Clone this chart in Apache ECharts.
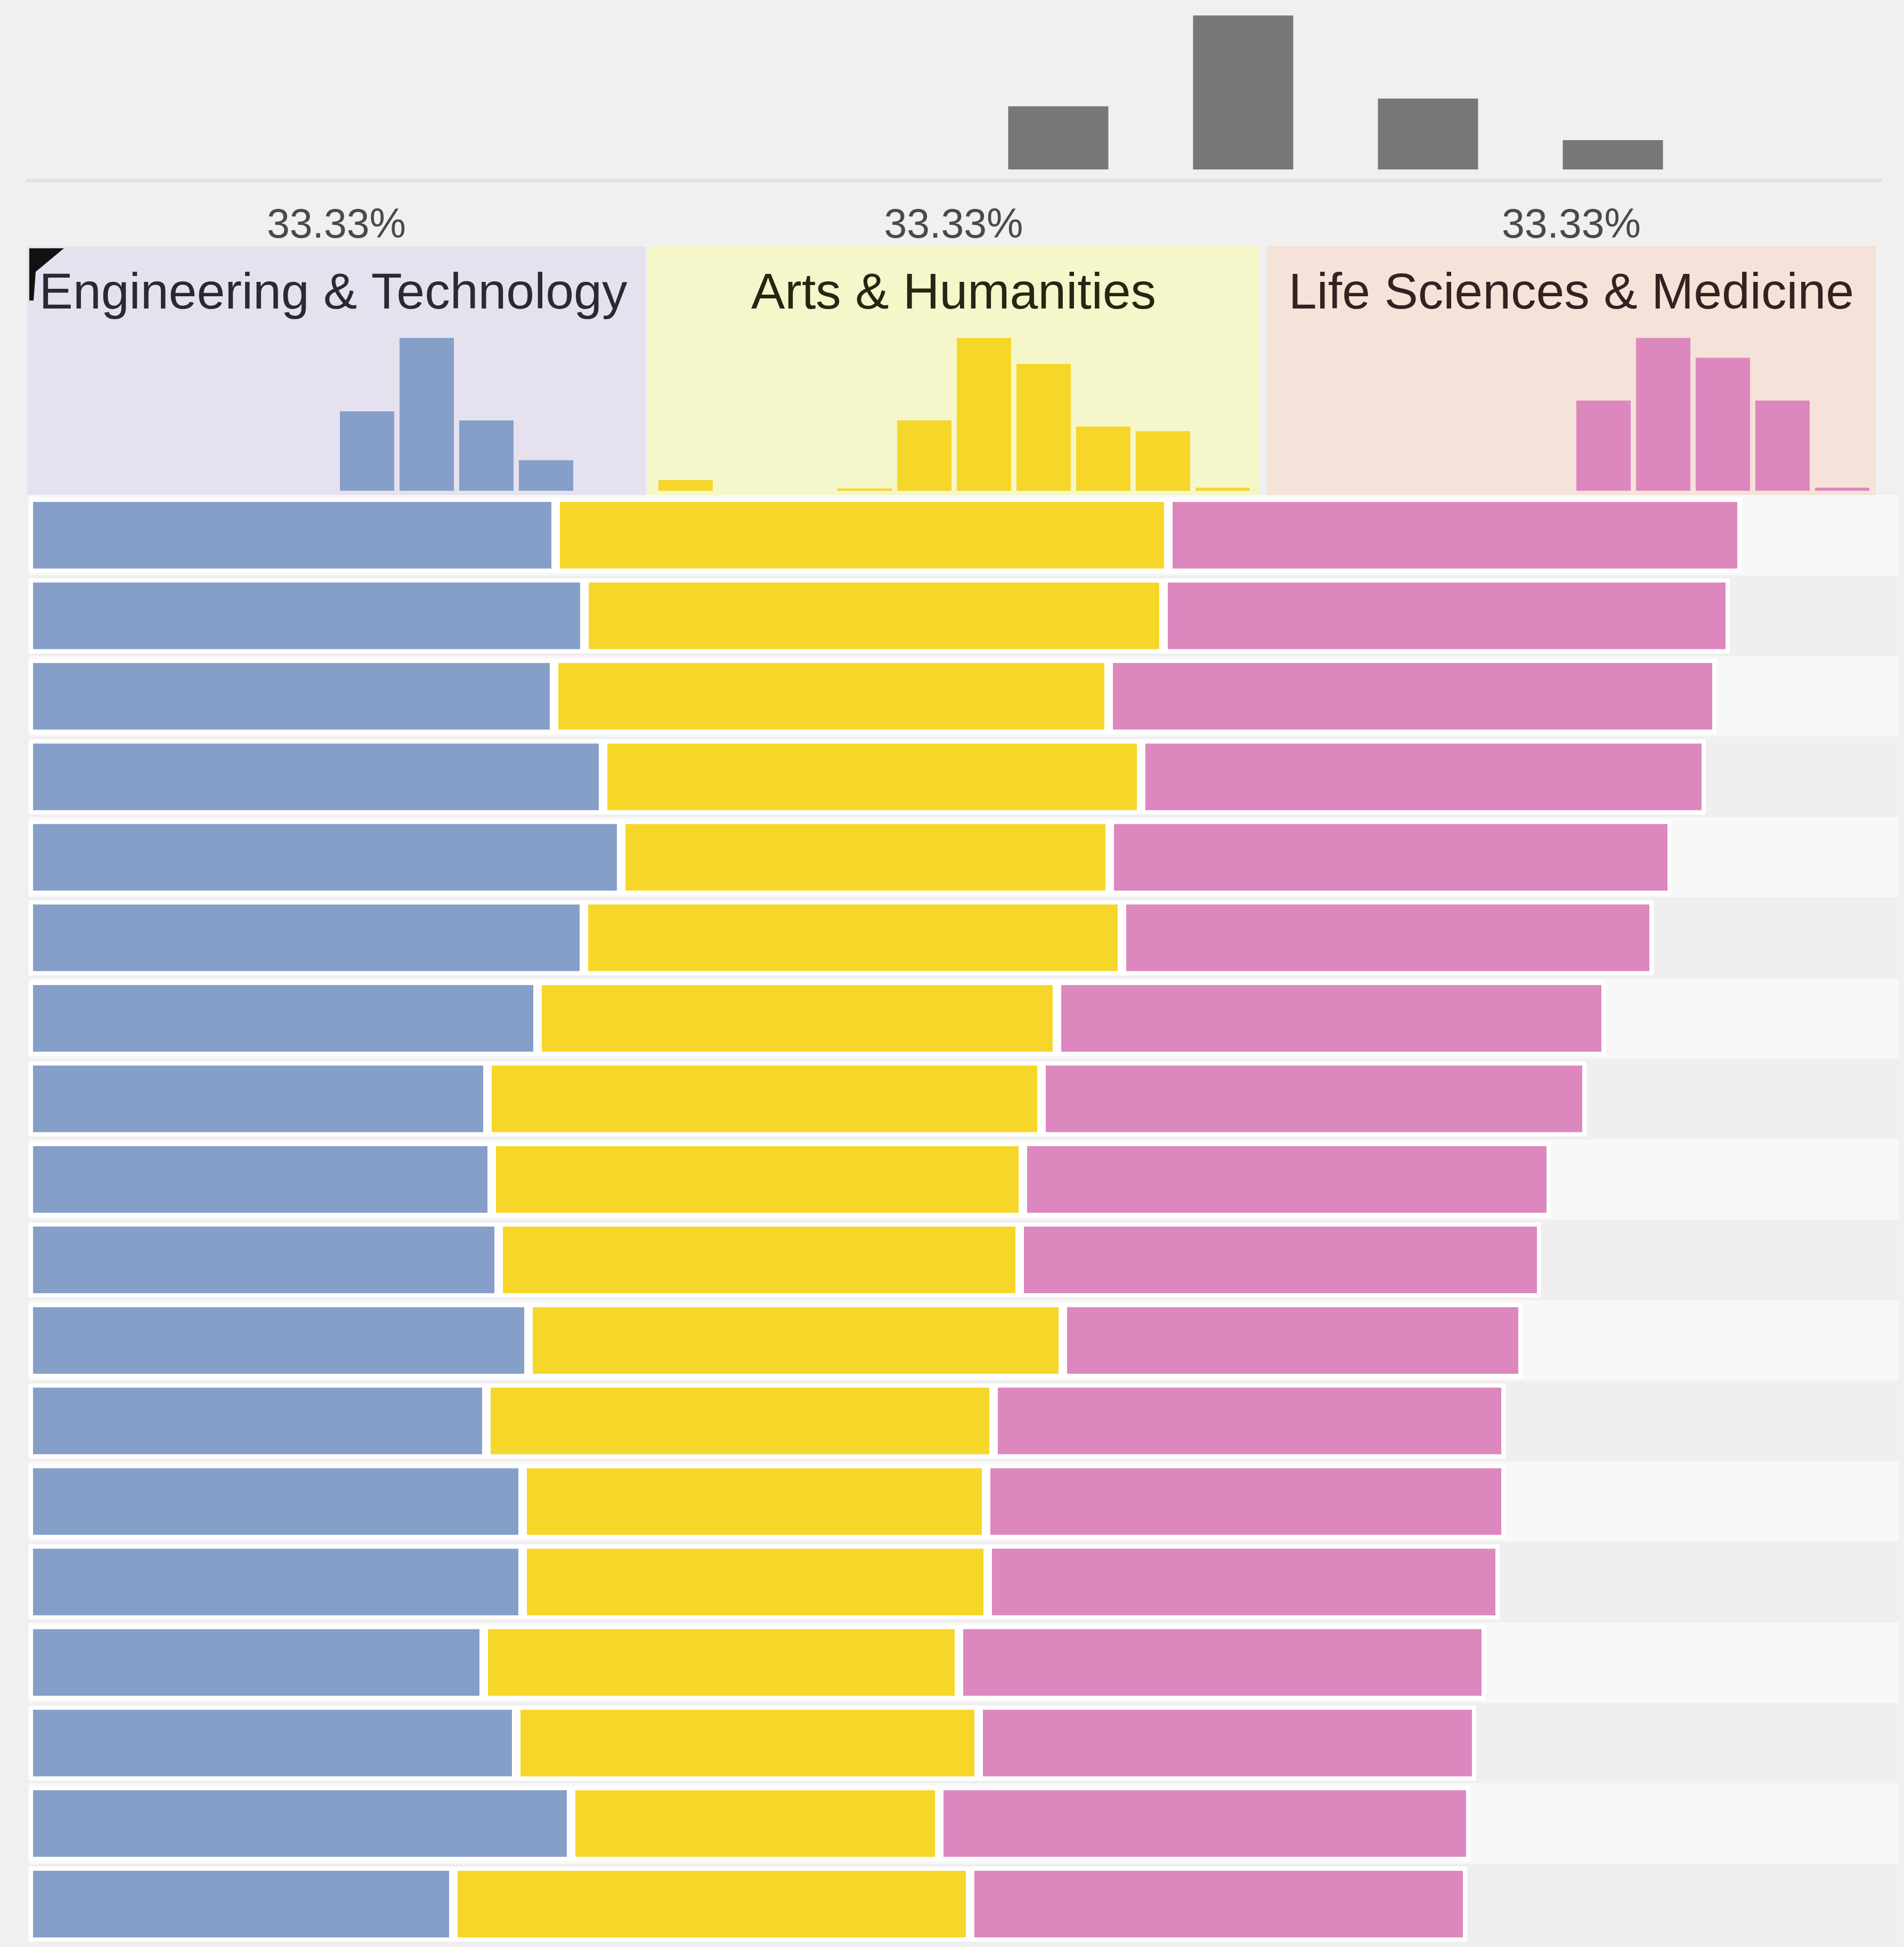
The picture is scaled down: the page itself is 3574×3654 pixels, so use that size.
<!DOCTYPE html>
<html>
<head>
<meta charset="utf-8">
<script src="https://cdn.jsdelivr.net/npm/echarts@6/dist/echarts.min.js"></script>
<style>
html,body{margin:0;padding:0;background:#f0f0f0;}
#chart{width:3574px;height:3654px;}
</style>
</head>
<body>
<div id="chart"></div>
<script>
// ---------- DATA ----------
const rows = ['R1','R2','R3','R4','R5','R6','R7','R8','R9','R10','R11','R12','R13','R14','R15','R16','R17','R18'];
const engineering  = [98.9,104.3,98.6,107.8,111.2,104.2,95.5,86.1,86.9,88.2,93.8,85.9,92.7,92.7,85.4,91.5,101.8,79.7];
const arts         = [115.0,108.7,104.1,101.0,91.7,101.0,97.5,104.0,99.7,97.8,100.3,95.2,87.0,87.3,89.2,86.8,69.1,97.0];
const lifeSciences = [107.6,106.3,114.1,106.0,105.5,99.8,103.0,102.3,99.1,97.9,86.3,96.1,97.5,96.1,98.9,93.4,99.7,93.3];

const categoryNames = ['Engineering & Technology','Arts & Humanities','Life Sciences & Medicine'];
const shareLabels   = ['33.33%','33.33%','33.33%'];

// histogram counts per bin (10 bins)
const overviewHist = [0,0,0,0,0,4.1,10,4.6,1.9,0];
const engHist      = [0,0,0,0,0,5.2,10,4.6,2.0,0];
const artsHist     = [0.7,0,0,0.15,4.6,10,8.3,4.2,3.9,0.2];
const lifeHist     = [0,0,0,0,0,5.9,10,8.7,5.9,0.2];

// ---------- STYLE / LAYOUT ----------
const colors = ['#859fc8','#f7d62a','#dd87bf'];
const panelBg = ['#e5e1ee','#f5f6c9','#f5e2d8'];
const panels = [
  {left:51,   width:1161, binStart:73},
  {left:1216, width:1148, binStart:1231},
  {left:2378, width:1143, binStart:2394}
];
const BIN_W = 112;
const FONT = '"Liberation Sans", Arial, Helvetica, sans-serif';

const chart = echarts.init(document.getElementById('chart'), null, {renderer:'canvas'});

const toBins = arr => arr.map((v,i)=>[i+0.5, v]);

const grids = [], xAxes = [], yAxes = [], series = [];

// overview histogram (grid 0)
grids.push({left:51, top:0, width:3479, height:338, show:false});
xAxes.push({type:'value', gridIndex:0, min:(51-78)/347, max:(3530-78)/347,
  axisLine:{show:true, onZero:false, lineStyle:{color:'#e2e2e2', width:7}},
  axisTick:{show:false}, axisLabel:{show:false}, splitLine:{show:false}});
yAxes.push({type:'value', gridIndex:0, min:-0.69, max:11, show:false, splitLine:{show:false}});
series.push({type:'bar', xAxisIndex:0, yAxisIndex:0, data:toBins(overviewHist),
  barWidth:188, itemStyle:{color:'#777777'}, silent:true});

// category panels (grids 1..3)
const hists = [engHist, artsHist, lifeHist];
panels.forEach((p,k)=>{
  const gi = grids.length;
  grids.push({left:p.left, top:462, width:p.width, height:468, show:true,
    backgroundColor:panelBg[k], borderWidth:0});
  xAxes.push({type:'value', gridIndex:gi,
    min:(p.left-p.binStart)/BIN_W, max:(p.left+p.width-p.binStart)/BIN_W, show:false, splitLine:{show:false}});
  yAxes.push({type:'value', gridIndex:gi, min:-0.31, max:16, show:false, splitLine:{show:false}});
  series.push({type:'bar', xAxisIndex:gi, yAxisIndex:gi, data:toBins(hists[k]),
    barWidth:102, itemStyle:{color:colors[k]}, silent:true});
});

// main stacked bars (grid 4)
const mg = grids.length;
grids.push({left:54, top:929, width:3510, height:2720, show:false});
xAxes.push({type:'value', gridIndex:mg, min:0, max:351, show:false, splitLine:{show:false}});
yAxes.push({type:'category', gridIndex:mg, data:rows, inverse:true,
  axisLine:{show:false}, axisTick:{show:false}, axisLabel:{show:false},
  splitLine:{show:false},
  splitArea:{show:true, areaStyle:{color:['#f8f8f8','#efefef']}}});
[engineering, arts, lifeSciences].forEach((arr,k)=>{
  series.push({type:'bar', name:categoryNames[k], stack:'total',
    xAxisIndex:mg, yAxisIndex:mg, data:arr, barWidth:141,
    itemStyle:{color:colors[k], borderColor:'#ffffff', borderWidth:8}, silent:true});
});

// texts
const centers = panels.map(p=>p.left + p.width/2);
const graphic = [];
shareLabels.forEach((t,i)=>{
  graphic.push({type:'text', x:centers[i], y:425, silent:true,
    style:{text:t, font:'77px '+FONT, fill:'#4a4a4a',
      align:'center', verticalAlign:'middle', textAlign:'center', textVerticalAlign:'middle'}});
});
const headColors = ['#2a2a32','#262614','#342222'];
categoryNames.forEach((t,i)=>{
  graphic.push({type:'text', x:centers[i] - (i===0 ? 6 : 0), y:553, silent:true, z:10,
    style:{text:t, font:'95px '+FONT, fill:headColors[i],
      align:'center', verticalAlign:'middle', textAlign:'center', textVerticalAlign:'middle'}});
});
graphic.push({type:'polygon', silent:true, z:11,
  shape:{points:[[55,466],[120,466],[67,510],[63,564],[55,564]]},
  style:{fill:'#111111'}});

chart.setOption({
  animation:false,
  backgroundColor:'#f0f0f0',
  grid:grids, xAxis:xAxes, yAxis:yAxes, series:series, graphic:graphic
});
</script>
</body>
</html>
